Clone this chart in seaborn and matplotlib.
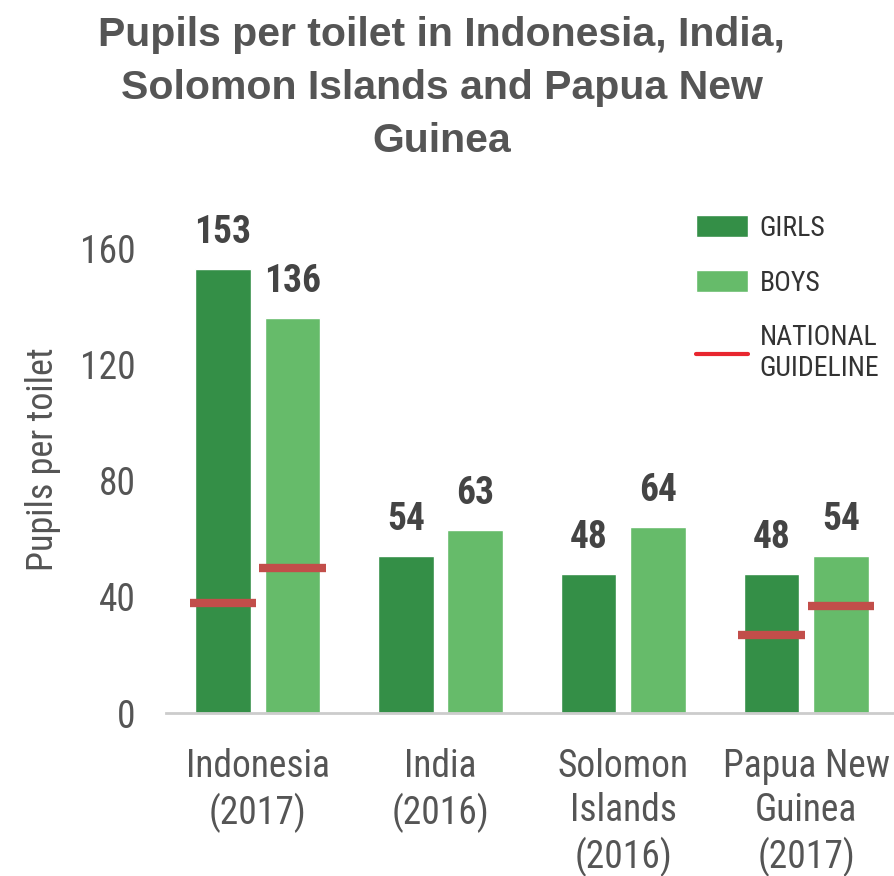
import pandas as pd
import seaborn as sns
import matplotlib.pyplot as plt
from matplotlib import font_manager
from matplotlib.patches import Patch
from matplotlib.lines import Line2D

# chart data
countries = ["Indonesia\n(2017)", "India\n(2016)", "Solomon\nIslands\n(2016)", "Papua New\nGuinea\n(2017)"]
girls = [153, 54, 48, 48]
boys = [136, 63, 64, 54]
guide_girls = [38, None, None, 27]
guide_boys = [50, None, None, 37]
yticks = [0, 40, 80, 120, 160]

df = pd.DataFrame({
    "country": countries * 2,
    "sex": ["GIRLS"] * 4 + ["BOYS"] * 4,
    "value": girls + boys,
})

sns.set_style("white")

# pick a narrow font if there is one
installed = {f.name for f in font_manager.fontManager.ttflist}
narrow_name = "Liberation Sans"
for cand in ["Liberation Sans Narrow", "Roboto Condensed", "Open Sans Condensed", "DejaVu Sans Condensed"]:
    if cand in installed:
        narrow_name = cand
        break
is_narrow = narrow_name != "Liberation Sans"
narrow = [narrow_name, "DejaVu Sans"]
shrink = 1.0 if is_narrow else 0.88
text_col = "#555555"

fig = plt.figure(figsize=(8.94, 8.76), dpi=100)
ax = fig.add_axes([0.186, 0.186, 0.814, 0.58])

pal = {"GIRLS": "#348f47", "BOYS": "#66bb6a"}
sns.barplot(data=df, x="country", y="value", hue="sex", palette=pal,
            width=0.76, gap=0.2, saturation=1, legend=False, ax=ax)

# value labels
for cont in ax.containers:
    for bar in cont:
        h = bar.get_height()
        ax.annotate(f"{h:.0f}", (bar.get_x() + bar.get_width() / 2, h),
                    xytext=(0, 13), textcoords="offset points",
                    ha="center", va="bottom", fontsize=27 * shrink, fontweight="bold",
                    color="#444444", family=narrow)

# national guideline marks
for cont, guide in zip(ax.containers, [guide_girls, guide_boys]):
    for bar, g in zip(cont, guide):
        if g is None:
            continue
        x0 = bar.get_x()
        w = bar.get_width()
        ax.hlines(g, x0 - 0.03, x0 + w + 0.03, color="#c24e4a", lw=6, zorder=3)

ax.set_xlim(-0.5, 3.48)
ax.set_ylim(0, 175)
ax.set_yticks(yticks)
ax.tick_params(axis="both", length=0, labelcolor=text_col)
ax.tick_params(axis="x", pad=25)
ax.tick_params(axis="y", pad=22)
for lab in ax.get_xticklabels() + ax.get_yticklabels():
    lab.set_family(narrow)
    lab.set_fontsize(27 * shrink)
for lab in ax.get_xticklabels():
    lab.set_linespacing(1.25)
ax.set_xlabel("")
ax.set_ylabel("Pupils per toilet", fontsize=26 * shrink, color=text_col, family=narrow, labelpad=14)

sns.despine(ax=ax, left=True)
ax.spines["bottom"].set_color("#cccccc")
ax.spines["bottom"].set_linewidth(2)

handles = [
    Patch(facecolor=pal["GIRLS"]),
    Patch(facecolor=pal["BOYS"]),
    Line2D([0], [0], color="#e8262f", lw=3),
]
leg = ax.legend(handles, ["GIRLS", "BOYS", "NATIONAL\nGUIDELINE"],
                loc="upper right", bbox_to_anchor=(1.014, 1.03), frameon=False,
                prop={"family": narrow, "size": 20 * shrink}, labelcolor="#333333",
                handlelength=1.9, handleheight=0.85, labelspacing=1.0, handletextpad=0.4)

fig.suptitle("Pupils per toilet in Indonesia, India,\nSolomon Islands and Papua New\nGuinea",
             x=0.494, y=0.982, fontsize=29.5, fontweight="bold", color="#555555",
             family=["Liberation Sans", "DejaVu Sans"], linespacing=1.5)

fig.savefig("out.png", dpi=100)
